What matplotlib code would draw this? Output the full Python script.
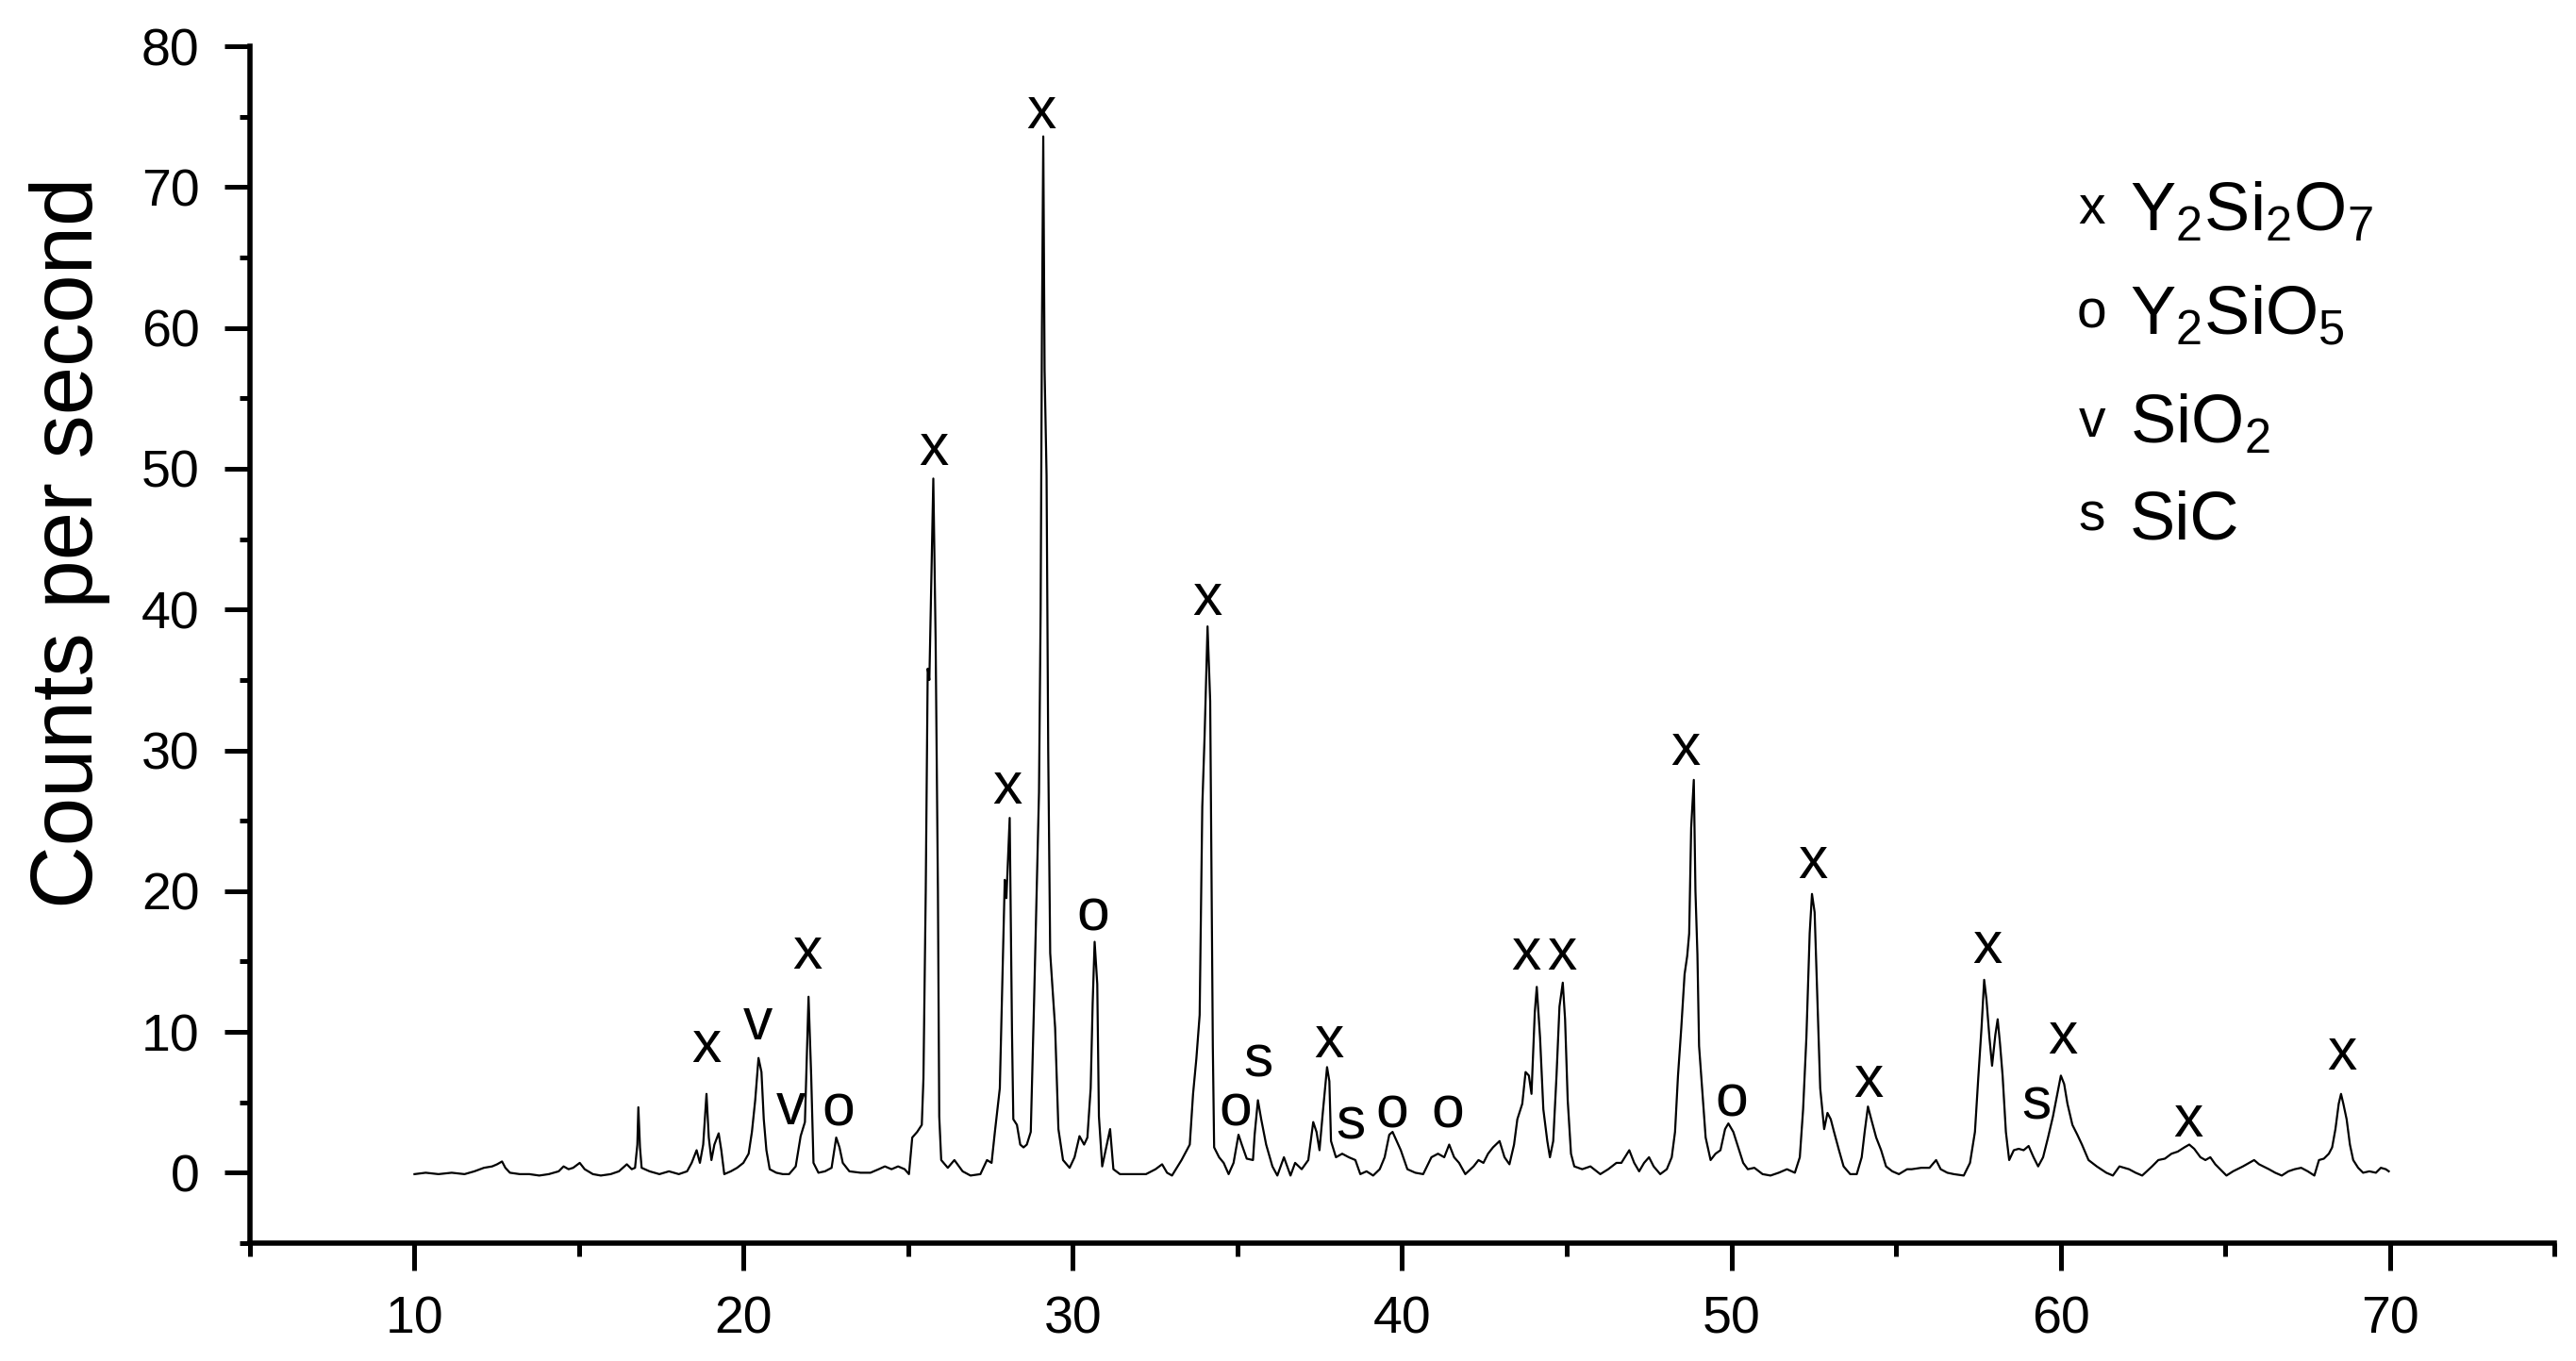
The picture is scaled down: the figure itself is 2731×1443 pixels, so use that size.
import matplotlib
matplotlib.use("Agg")
import matplotlib.pyplot as plt
from matplotlib.ticker import MultipleLocator

plt.rcParams['font.family'] = ['Liberation Sans', 'DejaVu Sans']
plt.rcParams['mathtext.default'] = 'regular'

# XRD trace (2 theta in degrees, counts per second)
two_theta = [
    10.0, 10.34, 10.73, 11.13, 11.52, 11.82, 12.11, 12.36, 12.51, 12.66, 12.76, 12.9,
    13.2, 13.49, 13.79, 14.08, 14.38, 14.53, 14.68, 14.82, 15.02, 15.17, 15.42, 15.66,
    15.96, 16.21, 16.45, 16.6, 16.7, 16.77, 16.8, 16.85, 16.9, 17.14, 17.44, 17.73,
    18.03, 18.28, 18.42, 18.57, 18.67, 18.77, 18.87, 18.94, 19.02, 19.11, 19.24, 19.32,
    19.41, 19.61, 19.8, 19.99, 20.15, 20.25, 20.35, 20.45, 20.54, 20.61, 20.69, 20.79,
    20.99, 21.19, 21.38, 21.58, 21.73, 21.86, 21.97, 22.05, 22.12, 22.27, 22.47, 22.67,
    22.81, 22.91, 23.01, 23.21, 23.55, 23.85, 24.1, 24.29, 24.49, 24.69, 24.89,
    25.02, 25.12, 25.27, 25.41, 25.46, 25.53, 25.59, 25.64, 25.7, 25.76, 25.83, 25.9,
    25.94, 26.0, 26.2, 26.4, 26.65, 26.89, 27.19, 27.39, 27.53, 27.63, 27.78, 27.88,
    27.93, 27.98, 28.08, 28.15, 28.19, 28.3, 28.4, 28.5, 28.6, 28.72, 28.82, 28.9,
    28.97, 29.02, 29.06, 29.1, 29.14, 29.2, 29.25, 29.31, 29.46, 29.56, 29.7, 29.9,
    30.05, 30.2, 30.34, 30.44, 30.54, 30.6, 30.66, 30.74, 30.79, 30.89, 31.03, 31.13,
    31.23, 31.43, 31.82, 32.22, 32.51, 32.71, 32.86, 33.01, 33.3, 33.55, 33.65, 33.75,
    33.85, 33.93, 34.0, 34.09, 34.17, 34.21, 34.25, 34.29, 34.44, 34.58, 34.73, 34.88,
    35.03, 35.13, 35.28, 35.47, 35.52, 35.62, 35.72, 35.87, 36.06, 36.21, 36.41, 36.61,
    36.75, 36.95, 37.15, 37.3, 37.4, 37.49, 37.59, 37.72, 37.79, 37.84, 37.99, 38.18,
    38.38, 38.58, 38.73, 38.92, 39.12, 39.32, 39.47, 39.61, 39.71, 39.96, 40.16,
    40.4, 40.64, 40.89, 41.09, 41.28, 41.43, 41.58, 41.73, 41.92, 42.17, 42.32, 42.47,
    42.61, 42.76, 42.96, 43.11, 43.26, 43.4, 43.5, 43.65, 43.75, 43.85, 43.93, 44.03,
    44.09, 44.19, 44.29, 44.41, 44.49, 44.59, 44.69, 44.78, 44.88, 44.95, 45.03, 45.13,
    45.23, 45.47, 45.72, 46.02, 46.26, 46.51, 46.66, 46.9, 47.05, 47.2, 47.35, 47.5,
    47.64, 47.84, 48.04, 48.19, 48.29, 48.38, 48.48, 48.58, 48.66, 48.72, 48.78, 48.86,
    48.91, 48.97, 49.02, 49.09, 49.22, 49.37, 49.52, 49.67, 49.81, 49.91, 50.06, 50.21,
    50.36, 50.5, 50.7, 50.95, 51.19, 51.44, 51.69, 51.93, 52.08, 52.18, 52.28, 52.38,
    52.45, 52.53, 52.62, 52.7, 52.82, 52.92, 53.02, 53.12, 53.27, 53.41, 53.61, 53.81,
    53.96, 54.05, 54.15, 54.25, 54.4, 54.55, 54.7, 54.89, 55.09, 55.34,
    55.48, 55.77, 56.02, 56.22, 56.36, 56.56, 56.76, 57.06, 57.25, 57.4, 57.5, 57.6,
    57.68, 57.75, 57.84, 57.92, 58.02, 58.09, 58.16, 58.24, 58.34, 58.44, 58.58, 58.73,
    58.88, 59.03, 59.18, 59.32, 59.47, 59.62, 59.77, 59.92, 60.01, 60.11, 60.21, 60.36,
    60.51, 60.65, 60.85, 61.1, 61.39, 61.59, 61.79, 62.08, 62.28, 62.48, 62.78, 62.97,
    63.17, 63.37, 63.56, 63.76, 63.91, 64.06, 64.25, 64.4, 64.55, 64.7, 64.85, 65.04,
    65.24, 65.54, 65.88, 66.03, 66.33, 66.52, 66.72, 66.92, 67.11, 67.31, 67.51, 67.71,
    67.85, 68.0, 68.15, 68.25, 68.35, 68.45, 68.52, 68.59, 68.69, 68.79, 68.89, 69.04,
    69.19, 69.38, 69.58, 69.73, 69.88, 69.97,
]
counts = [
    -0.1, 0.0, -0.1, 0.0, -0.1, 0.1, 0.35, 0.45, 0.6, 0.8, 0.35, 0.0,
    -0.1, -0.1, -0.2, -0.1, 0.1, 0.45, 0.25, 0.35, 0.7, 0.25, -0.1, -0.2,
    -0.1, 0.1, 0.6, 0.25, 0.35, 2.0, 4.65, 1.8, 0.35, 0.1, -0.1, 0.1,
    -0.1, 0.1, 0.7, 1.6, 0.7, 2.0, 5.6, 2.5, 0.9, 2.0, 2.8, 1.6,
    -0.1, 0.1, 0.35, 0.7, 1.35, 2.9, 5.15, 8.15, 7.15, 3.8, 1.6, 0.25,
    0.0, -0.1, -0.1, 0.45, 2.6, 3.6, 12.5, 6.9, 0.7, 0.0, 0.1, 0.35,
    2.5, 1.8, 0.7, 0.1, 0.0, 0.0, 0.25, 0.45, 0.25, 0.45, 0.25,
    -0.1, 2.5, 2.9, 3.4, 6.7, 20.0, 35.8, 35.0, 42.0, 49.3, 37.8, 20.0,
    4.0, 0.9, 0.35, 0.9, 0.1, -0.2, -0.1, 0.9, 0.7, 2.9, 6.0, 16.0,
    20.8, 19.5, 25.2, 10.0, 3.8, 3.4, 2.0, 1.8, 2.0, 2.9, 12.1, 20.0,
    27.0, 40.0, 60.0, 73.6, 57.0, 49.5, 30.0, 15.6, 10.3, 3.1, 0.9, 0.35,
    1.1, 2.6, 2.0, 2.5, 6.0, 12.0, 16.4, 13.4, 4.0, 0.45, 2.0, 3.1,
    0.25, -0.1, -0.1, -0.1, 0.25, 0.6, 0.0, -0.2, 0.9, 2.0, 5.6, 8.1,
    11.2, 26.0, 31.0, 38.8, 33.5, 21.0, 9.0, 1.8, 1.1, 0.7, -0.1, 0.7,
    2.7, 2.0, 1.0, 0.9, 2.7, 5.15, 3.8, 2.0, 0.45, -0.2, 1.1, -0.2,
    0.7, 0.25, 0.9, 3.6, 2.9, 1.6, 4.25, 7.5, 6.5, 2.25, 1.1, 1.35,
    1.1, 0.9, -0.1, 0.1, -0.2, 0.25, 1.1, 2.7, 2.9, 1.6, 0.25,
    0.0, -0.1, 1.1, 1.35, 1.1, 2.0, 1.1, 0.7, -0.1, 0.45, 0.9, 0.7,
    1.35, 1.8, 2.25, 1.1, 0.6, 2.0, 3.8, 4.9, 7.15, 6.9, 5.6, 11.4,
    13.2, 9.6, 4.5, 2.25, 1.1, 2.25, 6.9, 11.8, 13.5, 10.9, 5.15, 1.35,
    0.45, 0.25, 0.45, -0.1, 0.25, 0.7, 0.7, 1.6, 0.7, 0.1, 0.7, 1.1,
    0.45, -0.1, 0.25, 1.1, 2.9, 6.9, 10.3, 14.1, 15.4, 17.0, 24.5, 27.9,
    20.0, 15.5, 9.0, 6.7, 2.5, 0.9, 1.35, 1.6, 3.1, 3.5, 2.9, 1.8,
    0.7, 0.25, 0.35, -0.1, -0.2, 0.0, 0.25, 0.0, 1.1, 4.5, 9.6, 17.0,
    19.8, 18.5, 12.0, 6.0, 3.1, 4.25, 3.8, 2.9, 1.6, 0.45, -0.1, -0.1,
    1.1, 2.9, 4.7, 3.8, 2.5, 1.6, 0.45, 0.1, -0.1, 0.25,
    0.25, 0.35, 0.35, 0.9, 0.25, 0.0, -0.1, -0.2, 0.7, 2.9, 6.7, 10.3,
    13.7, 12.3, 9.6, 7.6, 9.8, 10.9, 9.2, 6.9, 2.9, 0.9, 1.6, 1.7,
    1.6, 1.9, 1.1, 0.45, 1.1, 2.5, 4.0, 5.8, 6.9, 6.3, 4.9, 3.4,
    2.7, 2.0, 0.9, 0.45, 0.0, -0.2, 0.45, 0.25, 0.0, -0.2, 0.45, 0.9,
    1.0, 1.35, 1.5, 1.8, 2.0, 1.7, 1.1, 0.9, 1.1, 0.6, 0.25, -0.2,
    0.1, 0.45, 0.9, 0.6, 0.25, 0.0, -0.2, 0.1, 0.25, 0.35, 0.1, -0.2,
    0.9, 1.0, 1.35, 1.8, 3.1, 4.9, 5.6, 4.9, 3.8, 2.0, 0.9, 0.35,
    0.0, 0.1, 0.0, 0.35, 0.25, 0.1,
]

# phase marks above the peaks
mark_x = [18.88, 20.42, 21.42, 21.92, 22.87, 25.76, 28.0, 29.05, 30.6, 34.09,
          34.94, 35.64, 37.78, 38.43, 39.68, 41.37, 43.77, 44.86, 48.6, 50.0,
          52.49, 54.18, 57.78, 59.28, 60.07, 63.87, 68.55]
mark_y = [9.0, 10.6, 4.55, 15.6, 4.43, 51.4, 27.3, 75.3, 18.3, 40.7,
          4.43, 7.9, 9.3, 3.5, 4.3, 4.3, 15.5, 15.5, 30.1, 5.1,
          22.0, 6.5, 16.0, 4.9, 9.6, 3.7, 8.4]
mark_txt = ['x', 'v', 'v', 'x', 'o', 'x', 'x', 'x', 'o', 'x',
            'o', 's', 'x', 's', 'o', 'o', 'x', 'x', 'x', 'o',
            'x', 'x', 'x', 's', 'x', 'x', 'x']

key_symbols = ['x', 'o', 'v', 's']
key_names = [r'$\mathregular{Y_2Si_2O_7}$', r'$\mathregular{Y_2SiO_5}$',
             r'$\mathregular{SiO_2}$', 'SiC']
key_sym_y = [68.4, 61.0, 53.3, 46.6]
key_txt_y = [66.9, 59.6, 51.8, 45.0]


def main():
    fig = plt.figure(figsize=(27.31, 14.43), dpi=100)
    ax = fig.add_axes([0.097, 0.0866, 0.8946, 0.8794])

    ax.plot(two_theta, counts, color='black', lw=1.6)

    for x, y, t in zip(mark_x, mark_y, mark_txt):
        ax.text(x, y, t, fontsize=45, ha='center', va='center')

    for s, n, ys, yt in zip(key_symbols, key_names, key_sym_y, key_txt_y):
        ax.text(60.95, ys, s, fontsize=41, ha='center', va='center')
        ax.text(62.1, yt, n, fontsize=52, ha='left', va='baseline')

    ax.set_xlim(5, 75)
    ax.set_ylim(-5, 80)
    ax.xaxis.set_major_locator(MultipleLocator(10))
    ax.xaxis.set_minor_locator(MultipleLocator(5))
    ax.yaxis.set_major_locator(MultipleLocator(10))
    ax.yaxis.set_minor_locator(MultipleLocator(5))

    for side in ['top', 'right']:
        ax.spines[side].set_visible(False)
    for side in ['left', 'bottom']:
        ax.spines[side].set_linewidth(4)

    ax.tick_params(axis='both', which='major', direction='out', width=3.6,
                   labelsize=40)
    ax.tick_params(axis='x', which='major', length=21, pad=19)
    ax.tick_params(axis='y', which='major', length=19.5, pad=19)
    ax.tick_params(axis='x', which='minor', length=10, width=3.6)
    ax.tick_params(axis='y', which='minor', length=8, width=3.6)

    fig.text(0.027, 0.6015, 'Counts per second', rotation=90, fontsize=66.5,
             ha='center', va='center')

    fig.savefig('out.png', dpi=100)


if __name__ == '__main__':
    main()
